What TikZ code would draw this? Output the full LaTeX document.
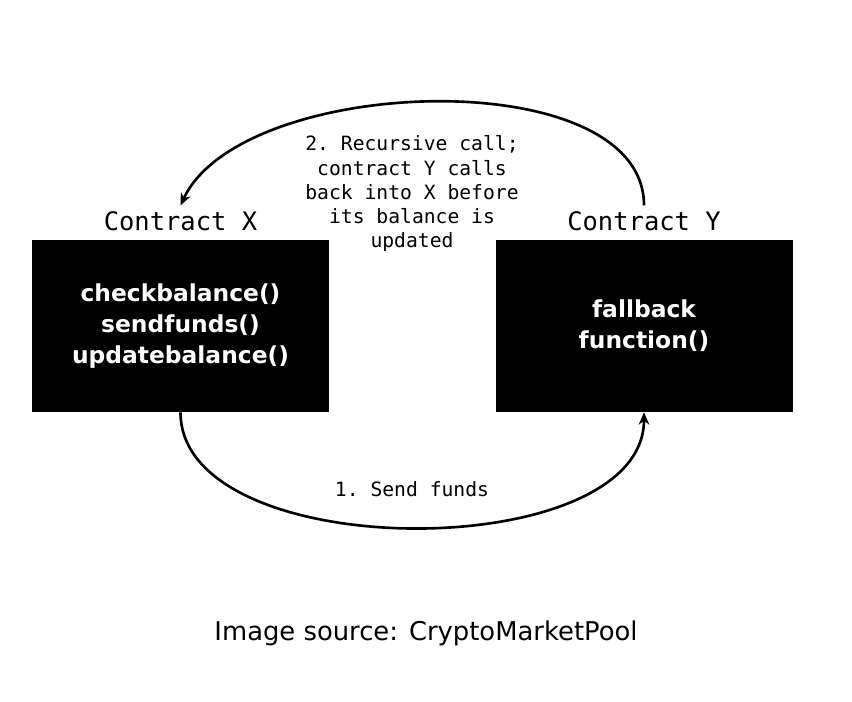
\documentclass[tikz,border=0pt]{standalone}
\usepackage{fontspec}
\setmainfont{DejaVu Sans}
\setmonofont{DejaVu Sans Mono}
\usetikzlibrary{positioning,arrows.meta}

\tikzset{
	contract/.style={fill=black, text=white, minimum width=5.94cm, minimum height=3.44cm,
		align=center, font=\fontsize{13.3}{17.5}\selectfont\bfseries},
	title/.style={font=\fontsize{14.5}{17}\selectfont\ttfamily},
	note/.style={font=\fontsize{11.2}{13.8}\selectfont\ttfamily, align=center},
	call/.style={line width=1.5pt, -{Stealth[length=7pt,width=6pt]}},
}

\begin{document}
\begin{tikzpicture}
	\useasboundingbox (0,0) rectangle (17.04,14.04);
	
	\node[contract] (bx) at (3.61,7.52) {checkbalance()\\sendfunds()\\updatebalance()};
	\node[contract] (by) at (12.88,7.52) {fallback\\function()};
	
	\node[title, above=0.05cm of bx] (cx) {Contract X};
	\node[title, above=0.05cm of by] (cy) {Contract Y};
	
	\node[note] (recall) at (8.24,10.16) {2. Recursive call;\\contract Y calls\\back into X before\\its balance is\\updated};
	\node[note] (send) at (8.24,4.26) {1. Send funds};
	
	\node[font=\fontsize{14.7}{17}\selectfont] (src) at (8.52,1.38) {Image source: CryptoMarketPool};
	
	% arrows
	\draw[call] (cy.north) to[out=90, in=65, looseness=0.8] (cx.north);
	\draw[call] (bx.south) to[out=-90, in=-90, looseness=0.85] (by.south);
\end{tikzpicture}
\end{document}
